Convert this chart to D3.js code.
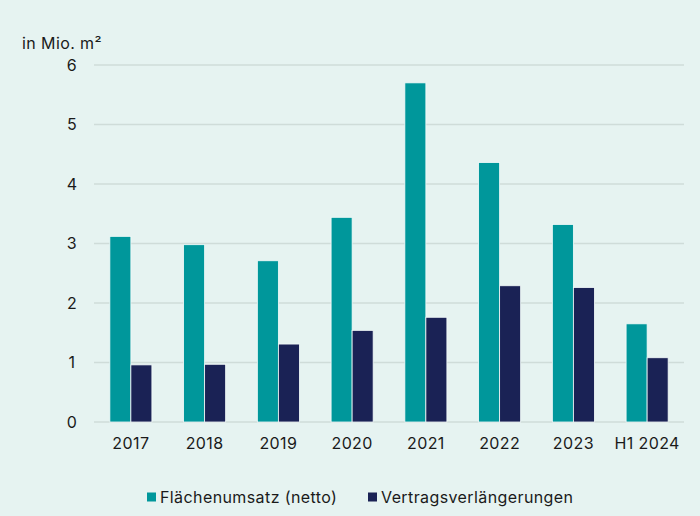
<!DOCTYPE html>
<html>
<head>
<meta charset="utf-8">
<script src="https://cdn.jsdelivr.net/npm/d3@7"></script>
<style>
  body { margin: 0; background: #e6f3f1; }
  svg { display: block; font-family: Inter, "Noto Sans", sans-serif; letter-spacing: 0.4px; }
</style>
</head>
<body>
<div id="chart"></div>
<script>
const categories = ["2017", "2018", "2019", "2020", "2021", "2022", "2023", "H1 2024"];
const seriesNames = ["Flächenumsatz (netto)", "Vertragsverlängerungen"];
const flaechenumsatz = [3.12, 2.98, 2.71, 3.44, 5.70, 4.36, 3.32, 1.65];
const verlaengerungen = [0.96, 0.97, 1.31, 1.54, 1.76, 2.29, 2.26, 1.08];
const yTicks = [0, 1, 2, 3, 4, 5, 6];
const colors = ["#00979b", "#1a2255"];

const WIDTH = 700, HEIGHT = 516;
const MARGIN = { TOP: 65, BOTTOM: 94, LEFT: 94, RIGHT: 16 };
const FONT = 16;

const svg = d3.select("#chart")
  .append("svg")
  .attr("width", WIDTH)
  .attr("height", HEIGHT)
  .style("background", "#e6f3f1");

const g = svg.append("g");

const x = d3.scaleBand()
  .domain(categories)
  .range([MARGIN.LEFT, WIDTH - MARGIN.RIGHT])
  .paddingInner(0.43)
  .paddingOuter(0.215);

const xInner = d3.scaleBand()
  .domain(seriesNames)
  .range([0, x.bandwidth()]);

const y = d3.scaleLinear()
  .domain([0, 6])
  .range([HEIGHT - MARGIN.BOTTOM, MARGIN.TOP]);

// gridlines
g.append("g")
  .selectAll("line")
  .data(yTicks)
  .join("line")
  .attr("x1", MARGIN.LEFT)
  .attr("x2", WIDTH - MARGIN.RIGHT)
  .attr("y1", d => y(d))
  .attr("y2", d => y(d))
  .attr("stroke", "#cfdcd9")
  .attr("stroke-width", 1.3);

// y labels
g.append("g")
  .selectAll("text")
  .data(yTicks)
  .join("text")
  .attr("x", 72)
  .attr("y", d => y(d))
  .attr("dy", "0.35em")
  .attr("text-anchor", "middle")
  .attr("font-size", FONT)
  .attr("fill", "#1a1a1a")
  .text(d => d);

svg.append("text")
  .attr("x", 22)
  .attr("y", 49)
  .attr("font-size", FONT)
  .attr("fill", "#1a1a1a")
  .text("in Mio. m²");

// bars
const rows = categories.map((c, i) => ({
  cat: c,
  values: [
    { key: seriesNames[0], value: flaechenumsatz[i], color: colors[0] },
    { key: seriesNames[1], value: verlaengerungen[i], color: colors[1] },
  ],
}));

g.append("g")
  .selectAll("g")
  .data(rows)
  .join("g")
  .attr("transform", d => `translate(${x(d.cat)},0)`)
  .selectAll("rect")
  .data(d => d.values)
  .join("rect")
  .attr("x", d => xInner(d.key))
  .attr("y", d => y(d.value))
  .attr("width", xInner.bandwidth())
  .attr("height", d => y(0) - y(d.value))
  .attr("fill", d => d.color)
  .attr("stroke", "#f4fbfa")
  .attr("stroke-width", 0.8);

// x labels
g.append("g")
  .selectAll("text")
  .data(categories)
  .join("text")
  .attr("x", d => x(d) + x.bandwidth() / 2)
  .attr("y", 449)
  .attr("text-anchor", "middle")
  .attr("font-size", FONT)
  .attr("fill", "#1a1a1a")
  .text(d => d);

// legend
const legendX = [147, 368];
const legend = svg.append("g")
  .selectAll("g")
  .data(seriesNames)
  .join("g")
  .attr("transform", (d, i) => `translate(${legendX[i]}, 497)`);

legend.append("rect")
  .attr("x", 0)
  .attr("y", -4.5)
  .attr("width", 9)
  .attr("height", 9)
  .attr("fill", (d, i) => colors[i]);

legend.append("text")
  .attr("x", 13)
  .attr("dy", "0.35em")
  .attr("font-size", FONT)
  .attr("fill", "#1a1a1a")
  .text(d => d);
</script>
</body>
</html>
